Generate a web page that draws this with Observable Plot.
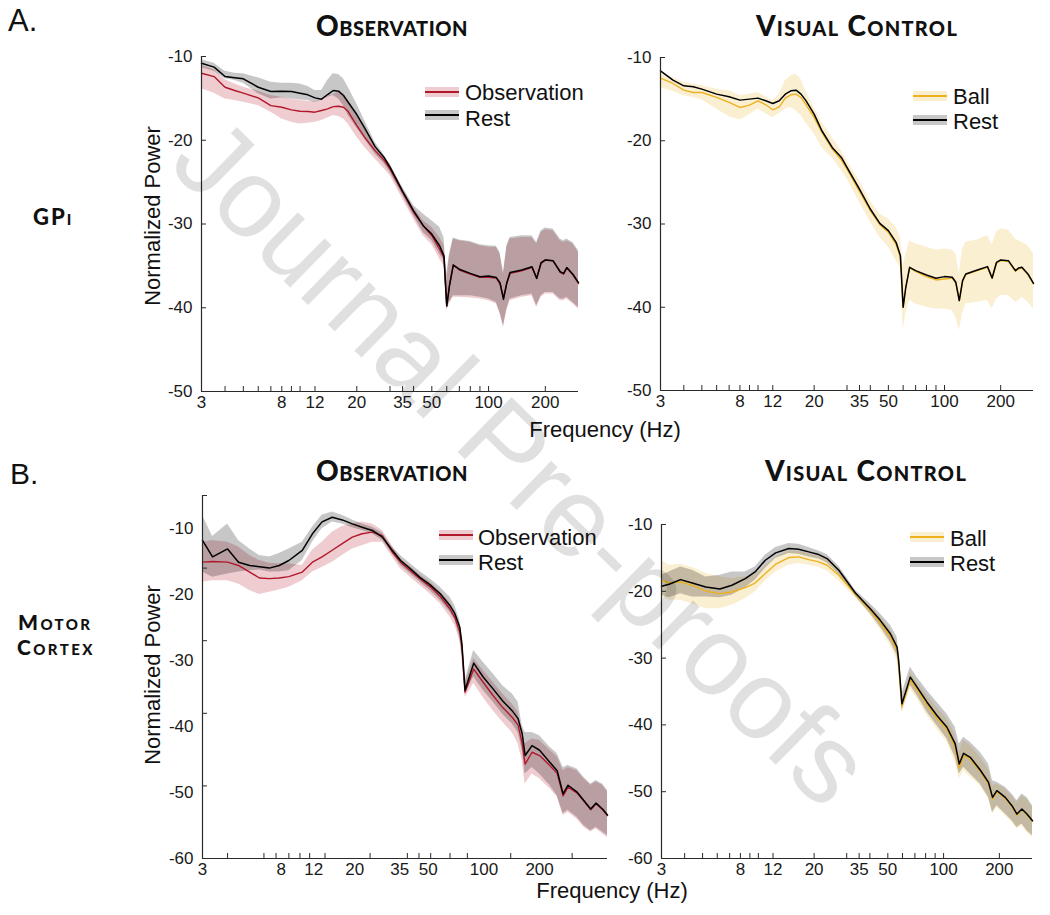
<!DOCTYPE html>
<html><head><meta charset="utf-8">
<script src="https://cdn.jsdelivr.net/npm/d3@7"></script>
<script src="https://cdn.jsdelivr.net/npm/@observablehq/plot@0.6"></script>
<style>
body{margin:0;background:#fff;}
#root{position:relative;width:1050px;height:915px;overflow:hidden;background:#fff;}
</style></head>
<body><div id="root"></div>
<script>
// ---------- tick labels / tick marks ----------
const xLabelTicks = [3, 8, 12, 20, 35, 50, 100, 200];
const xMinorTop = [4, 5, 6, 7, 8, 9, 10, 12, 20, 30, 35, 40, 50, 60, 70, 80, 90, 100, 200];
const xMinorBL = [4.1, 6.45, 7.5, 8.8, 10.1, 11.4, 13.8, 24.2, 38.5, 44.5, 51.5, 65.5, 81.3, 139.6, 300];
const yLabelsTop = [-10, -20, -30, -40, -50];
const yLabelsBottom = [-10, -20, -30, -40, -50, -60];
const yMarksBL = [-5, -16, -27, -38, -49, -60];

// ---------- A. GPi (top panels) ----------
const freqTop = [3,3.5,4,4.5,5,6,7,8,9,10,11,12,13,14,15,16,17,18,20,22,25,28,30,35,40,45,50,55,58,60,62,65,70,80,90,100,110,115,120,125,130,150,170,180,190,200,220,240,250,260,280,300];

const gpiObsMean = [-12.0,-12.4,-13.67,-14.06,-14.38,-14.94,-15.86,-16.06,-16.37,-16.53,-16.57,-16.65,-16.45,-16.25,-15.98,-15.94,-16.06,-16.57,-18.25,-19.64,-21.24,-22.43,-23.43,-26.2,-28.6,-30.2,-31.4,-33.0,-34.0,-39.76,-37.4,-34.86,-35.5,-35.98,-36.37,-36.37,-36.45,-37.17,-38.76,-37.1,-35.9,-35.58,-35.18,-36.45,-34.7,-34.3,-34.38,-35.78,-35.98,-35.26,-36.06,-37.1];
const gpiObsHi = [-11.08,-11.59,-12.79,-13.27,-13.67,-14.14,-14.66,-14.86,-15.1,-15.26,-15.34,-15.38,-15.18,-14.78,-14.54,-14.26,-14.46,-15.26,-16.85,-18.53,-20.64,-22.03,-22.83,-25.8,-28.0,-29.6,-30.4,-31.6,-32.47,-36.77,-33.98,-31.8,-32.0,-32.2,-32.6,-32.79,-32.79,-33.6,-35.98,-32.79,-31.8,-31.6,-31.6,-32.39,-31.0,-30.7,-30.8,-32.0,-32.2,-32.0,-32.39,-33.39];
const gpiObsLo = [-13.86,-14.38,-15.06,-15.26,-15.46,-15.86,-16.65,-17.45,-17.85,-18.05,-17.97,-17.85,-17.65,-17.33,-17.05,-17.17,-17.45,-18.05,-19.64,-20.84,-22.23,-23.43,-24.22,-27.01,-29.4,-31.4,-32.47,-34.18,-34.98,-40.36,-39.56,-38.76,-38.76,-38.84,-38.96,-39.16,-39.56,-40.76,-42.35,-40.36,-39.16,-38.76,-38.57,-39.96,-38.76,-38.37,-38.37,-39.16,-39.16,-38.96,-39.56,-40.16];
const gpiRestMean = [-10.8,-11.27,-12.39,-12.55,-12.67,-13.67,-14.18,-14.14,-14.18,-14.38,-14.58,-14.94,-15.1,-14.54,-14.06,-14.14,-14.66,-15.46,-16.93,-18.53,-20.76,-22.1,-23.2,-26.1,-28.4,-30.2,-31.2,-32.6,-33.8,-39.8,-37.4,-34.9,-35.4,-35.9,-36.3,-36.2,-36.4,-37.0,-39.0,-37.0,-35.8,-35.5,-35.1,-36.5,-34.6,-34.3,-34.4,-35.7,-35.9,-35.2,-36.0,-37.0];
const gpiRestHi = [-10.4,-10.8,-11.75,-12.0,-12.07,-12.55,-13.07,-13.19,-13.19,-13.27,-13.59,-14.06,-14.06,-12.87,-12.07,-12.15,-12.67,-13.67,-15.66,-17.65,-20.24,-21.83,-22.9,-25.6,-27.8,-28.8,-29.6,-30.4,-31.6,-35.98,-33.6,-31.67,-31.9,-32.1,-32.47,-32.6,-32.67,-33.4,-35.8,-32.6,-31.6,-31.4,-31.4,-32.2,-30.8,-30.48,-30.6,-31.8,-32.0,-31.8,-32.2,-33.2];
const gpiRestLo = [-11.35,-11.75,-12.67,-12.87,-13.19,-14.46,-15.06,-14.94,-15.06,-15.18,-15.26,-15.46,-15.26,-14.86,-14.66,-15.06,-15.86,-17.05,-18.53,-19.84,-21.63,-22.83,-23.82,-26.6,-29.0,-31.0,-32.0,-33.6,-34.4,-39.96,-39.36,-38.57,-38.57,-38.57,-38.76,-38.96,-39.36,-40.56,-42.15,-40.16,-38.96,-38.57,-38.37,-39.76,-38.57,-38.17,-38.17,-38.96,-38.96,-38.76,-39.36,-39.96];

const gpiBallMean = [-12.48,-13.12,-13.92,-14.2,-14.2,-14.8,-15.4,-16.0,-15.72,-15.2,-15.68,-16.28,-15.92,-14.88,-14.48,-14.4,-14.8,-15.6,-17.2,-19.0,-21.0,-22.32,-23.4,-26.08,-28.4,-30.08,-31.0,-32.48,-34.0,-40.0,-37.6,-35.28,-35.68,-36.32,-36.72,-36.6,-36.48,-37.12,-39.2,-36.88,-36.08,-35.6,-35.2,-36.56,-34.72,-34.4,-34.48,-35.68,-35.4,-35.28,-36.08,-37.2];
const gpiBallHi = [-11.8,-12.4,-13.0,-13.2,-13.4,-13.8,-14.0,-14.6,-14.4,-14.2,-14.72,-15.2,-14.4,-12.8,-12.2,-12.0,-12.6,-14.0,-16.0,-17.8,-19.6,-21.2,-22.4,-24.8,-27.2,-28.8,-29.4,-30.4,-31.6,-35.2,-33.6,-32.0,-32.4,-32.8,-33.12,-33.0,-33.12,-33.6,-36.0,-33.0,-32.2,-31.92,-31.4,-32.48,-31.0,-30.6,-30.72,-31.8,-32.0,-32.2,-32.6,-33.6];
const gpiBallLo = [-13.6,-14.08,-14.6,-14.8,-15.12,-16.2,-17.12,-17.52,-16.88,-16.2,-16.72,-17.28,-16.72,-16.2,-16.0,-16.4,-17.0,-17.8,-19.2,-20.8,-22.08,-23.6,-24.6,-27.4,-29.8,-31.6,-32.8,-34.4,-35.2,-42.8,-40.8,-39.2,-39.6,-40.0,-40.2,-40.2,-40.4,-41.2,-42.8,-40.8,-39.6,-39.4,-39.2,-40.2,-39.0,-38.6,-38.6,-39.4,-39.2,-38.8,-39.4,-40.2];
const gpiRest2Mean = [-11.6,-12.72,-13.4,-13.52,-13.8,-14.4,-14.72,-15.12,-15.0,-14.88,-15.2,-15.52,-15.2,-14.4,-14.0,-13.92,-14.4,-15.12,-16.8,-18.8,-20.8,-22.0,-23.2,-25.8,-28.2,-29.92,-30.8,-32.2,-33.8,-40.0,-37.6,-35.2,-35.6,-36.12,-36.52,-36.32,-36.4,-37.0,-39.2,-36.8,-36.0,-35.52,-35.12,-36.48,-34.6,-34.32,-34.4,-35.6,-35.28,-35.2,-36.0,-37.12];

// ---------- B. Motor cortex (bottom panels) ----------
const freqBL = [3,3.4,4.1,4.7,5.4,6.1,6.9,7.8,8.8,10.4,11.8,13.3,15.1,17.1,19.4,21.9,24.9,28.2,31.9,35.4,40,45,51,58,65.5,69.6,74,76,79,88,99,112,126,142,153,161,167,182,200,227,249,268,285,318,347,378,404,438,466];
const mcObsMean = [-15.1,-15.0,-15.1,-15.6,-16.6,-17.5,-17.6,-17.5,-17.3,-16.6,-15.1,-14.3,-13.3,-12.3,-11.3,-10.8,-10.55,-11.1,-13.6,-15.1,-16.4,-17.6,-18.8,-20.3,-22.2,-23.5,-25.7,-28.0,-34.8,-31.3,-33.3,-35.3,-37.1,-38.6,-39.8,-42.6,-45.7,-43.9,-44.4,-45.9,-47.1,-50.5,-49.2,-50.05,-51.3,-52.6,-51.7,-52.6,-53.5];
const mcObsHi = [-12.1,-11.8,-12.1,-12.8,-14.1,-14.85,-15.25,-15.35,-15.35,-15.6,-13.3,-12.1,-10.55,-9.7,-9.3,-9.0,-9.3,-10.3,-12.6,-14.6,-15.8,-17.0,-18.1,-19.6,-21.2,-22.5,-24.4,-27.0,-33.5,-29.7,-31.5,-33.3,-35.05,-36.6,-37.8,-40.6,-42.6,-41.9,-42.1,-43.6,-44.6,-46.7,-46.2,-46.7,-47.9,-48.9,-48.4,-48.9,-49.9];
const mcObsLo = [-18.1,-17.9,-17.9,-18.4,-19.4,-20.0,-19.65,-19.3,-18.9,-17.9,-16.6,-15.9,-15.1,-14.1,-13.1,-12.6,-12.1,-12.1,-14.3,-16.1,-17.4,-18.6,-19.9,-21.4,-23.4,-24.7,-27.0,-29.5,-35.6,-33.5,-35.6,-37.6,-39.3,-40.9,-42.6,-45.2,-48.7,-47.2,-47.9,-49.4,-50.7,-53.5,-53.0,-54.0,-55.25,-56.0,-55.5,-56.3,-56.8];
const mcRestMean = [-11.8,-14.3,-13.1,-15.1,-15.6,-15.8,-16.0,-15.6,-14.85,-13.3,-10.8,-9.0,-8.3,-8.7,-9.3,-9.8,-10.3,-11.3,-13.3,-14.85,-16.1,-17.4,-18.5,-19.9,-21.7,-22.9,-24.95,-27.5,-34.5,-30.4,-32.5,-34.3,-36.1,-37.6,-38.8,-41.1,-44.4,-42.9,-43.6,-45.4,-46.7,-50.2,-48.9,-49.9,-51.2,-52.5,-51.6,-52.5,-53.4];
const mcRestHi = [-8.0,-11.2,-9.3,-11.8,-13.1,-14.1,-14.3,-13.8,-13.1,-12.1,-9.8,-8.0,-7.5,-8.0,-8.7,-9.3,-9.8,-10.7,-12.8,-14.1,-15.35,-16.5,-17.6,-18.9,-20.4,-21.7,-23.9,-26.5,-33.0,-28.5,-30.25,-32.0,-33.8,-35.05,-36.3,-39.8,-40.9,-40.9,-41.4,-43.1,-44.1,-46.2,-45.9,-46.4,-47.7,-48.7,-48.2,-48.7,-49.7];
const mcRestLo = [-16.6,-17.4,-16.9,-16.6,-16.4,-16.3,-16.6,-16.6,-16.4,-14.85,-12.1,-10.05,-9.0,-9.3,-9.9,-10.3,-10.8,-11.8,-13.8,-15.6,-16.9,-18.1,-19.4,-20.9,-22.7,-23.9,-26.5,-29.0,-35.05,-32.5,-34.5,-36.3,-38.1,-39.6,-40.9,-43.6,-47.2,-46.2,-47.2,-48.9,-50.5,-53.2,-52.7,-53.7,-55.0,-55.8,-55.25,-56.0,-56.5];

const freqBR = [3,3.3,3.8,4.4,5.2,6.2,7.2,8.5,9.6,10.9,12.4,14.6,16.5,18.7,21.2,23.5,27.2,33.4,40.2,45.5,51.6,56.1,57.2,59.6,66.1,71.9,81.4,92.1,104.3,115.5,121.5,128.2,139.3,157.7,174.8,183.8,194,215.3,233.9,248.9,264.8,281.8,302];
const mcBallMean = [-18.35,-18.76,-18.6,-19.1,-19.95,-20.35,-20.1,-19.45,-18.76,-17.35,-15.95,-14.95,-14.85,-15.25,-15.6,-16.1,-17.6,-20.45,-22.85,-24.75,-26.85,-28.85,-30.85,-37.25,-33.25,-34.75,-37.0,-39.0,-40.75,-43.35,-46.45,-44.6,-45.1,-46.95,-48.85,-51.1,-50.0,-51.0,-52.25,-53.5,-52.7,-53.45,-54.45];
const mcBallHi = [-15.35,-16.1,-15.95,-16.45,-17.35,-17.86,-18.1,-17.86,-17.6,-16.25,-14.86,-13.96,-13.96,-14.35,-14.75,-15.25,-16.85,-20.1,-22.25,-23.85,-25.75,-27.6,-29.6,-36.35,-32.1,-33.6,-35.6,-37.35,-39.1,-41.35,-44.1,-42.35,-43.1,-44.85,-46.6,-49.1,-48.85,-49.6,-50.6,-51.6,-50.6,-51.1,-52.35];
const mcBallLo = [-20.86,-21.35,-21.35,-21.85,-22.6,-22.6,-22.1,-21.1,-20.1,-18.46,-17.1,-16.1,-15.85,-16.1,-16.45,-16.96,-18.46,-20.95,-23.6,-25.75,-28.1,-30.35,-32.35,-38.35,-34.6,-36.1,-38.6,-40.6,-42.6,-45.6,-48.1,-46.85,-47.85,-49.1,-51.1,-53.35,-52.35,-53.6,-54.6,-55.6,-55.1,-56.1,-56.85];
const mcRest2Mean = [-19.25,-18.95,-18.25,-18.76,-19.35,-19.65,-19.1,-18.1,-17.1,-15.35,-14.25,-13.6,-13.7,-14.1,-14.5,-15.1,-16.85,-20.25,-22.6,-24.35,-26.35,-28.35,-30.35,-36.85,-32.85,-34.35,-36.6,-38.6,-40.35,-42.85,-45.85,-44.25,-44.85,-46.75,-48.6,-50.85,-49.85,-50.85,-52.1,-53.35,-52.6,-53.35,-54.35];
const mcRest2Hi = [-17.6,-17.1,-16.36,-16.85,-17.86,-17.6,-17.1,-17.1,-16.36,-14.6,-13.45,-12.85,-12.95,-13.45,-13.96,-14.5,-16.25,-19.85,-21.85,-23.35,-25.1,-26.85,-28.85,-35.35,-31.35,-32.85,-34.85,-36.6,-38.35,-40.35,-42.85,-41.85,-42.6,-44.1,-45.85,-48.35,-48.6,-49.35,-50.35,-51.35,-50.35,-50.85,-52.1];
const mcRest2Lo = [-20.6,-20.95,-20.35,-20.86,-20.86,-20.95,-20.6,-19.45,-18.35,-16.6,-15.1,-14.35,-14.45,-14.86,-15.16,-15.76,-17.45,-20.75,-23.35,-25.35,-27.6,-29.6,-31.6,-37.85,-34.1,-35.6,-38.1,-40.1,-42.1,-44.85,-47.35,-46.35,-47.35,-48.85,-50.85,-53.1,-52.1,-53.35,-54.35,-55.35,-54.85,-55.85,-56.6];

// ---------- styles ----------
const RED = "#b2182b", BLACK = "#000000", GOLD = "#EDB120", AXIS = "#2a2a2a", TXT = "#1a1a1a";
const FONT = "'Liberation Sans', Arial, Helvetica, sans-serif";

function rows(freq, mean, lo, hi) {
  return freq.map((f, i) => ({f, mean: mean[i], lo: lo ? lo[i] : null, hi: hi ? hi[i] : null}));
}

const root = document.getElementById("root");
const ML = 60, MR = 10, MT = 10, MB = 40;

function makePanel(cfg) {
  const fw = cfg.frame.right - cfg.frame.left, fh = cfg.frame.bottom - cfg.frame.top;
  const marks = [];
  for (const b of cfg.bands) marks.push(Plot.areaY(b.data, {x: "f", y1: "lo", y2: "hi", fill: b.color, fillOpacity: b.opacity, curve: "linear"}));
  for (const l of cfg.lines) marks.push(Plot.lineY(l.data, {x: "f", y: "mean", stroke: l.color, strokeWidth: l.width, curve: "linear"}));
  marks.push(Plot.ruleX([cfg.xDomain[0]], {stroke: AXIS, strokeWidth: 1.2}));
  marks.push(Plot.ruleY([cfg.yDomain[0]], {stroke: AXIS, strokeWidth: 1.2}));
  marks.push(Plot.tickX(cfg.xTickMarks, {x: d => d, insetTop: fh - 5, stroke: AXIS}));
  marks.push(Plot.tickY(cfg.yTickMarks, {y: d => d, insetRight: fw - 5, stroke: AXIS}));
  marks.push(Plot.text(xLabelTicks, {x: d => d, frameAnchor: "bottom", lineAnchor: "top", dy: 4, text: d => String(d), fill: TXT}));
  marks.push(Plot.axisY(cfg.yLabels, {tickSize: 0, tickPadding: 9, tickFormat: d => String(d), label: null, fill: TXT}));
  const svg = Plot.plot({
    width: fw + ML + MR, height: fh + MT + MB,
    marginLeft: ML, marginRight: MR, marginTop: MT, marginBottom: MB,
    x: {type: "log", domain: cfg.xDomain, axis: null},
    y: {domain: cfg.yDomain},
    style: {background: "transparent", overflow: "visible", font: "17px " + FONT, color: TXT},
    marks
  });
  svg.style.position = "absolute";
  svg.style.left = (cfg.frame.left - ML) + "px";
  svg.style.top = (cfg.frame.top - MT) + "px";
  root.appendChild(svg);
}

// A. GPi - Observation
makePanel({
  frame: {left: 201, right: 578, top: 56, bottom: 391},
  xDomain: [3, 300], yDomain: [-50, -10],
  xTickMarks: xMinorTop, yTickMarks: yLabelsTop, yLabels: yLabelsTop,
  bands: [
    {data: rows(freqTop, gpiObsMean, gpiObsLo, gpiObsHi), color: RED, opacity: 0.22},
    {data: rows(freqTop, gpiRestMean, gpiRestLo, gpiRestHi), color: BLACK, opacity: 0.22}
  ],
  lines: [
    {data: rows(freqTop, gpiObsMean), color: RED, width: 1.4},
    {data: rows(freqTop, gpiRestMean), color: BLACK, width: 1.5}
  ]
});
// A. GPi - Visual control
makePanel({
  frame: {left: 660, right: 1033, top: 57, bottom: 390},
  xDomain: [3, 300], yDomain: [-50, -10],
  xTickMarks: xMinorTop, yTickMarks: yLabelsTop, yLabels: yLabelsTop,
  bands: [
    {data: rows(freqTop, gpiBallMean, gpiBallLo, gpiBallHi), color: GOLD, opacity: 0.2}
  ],
  lines: [
    {data: rows(freqTop, gpiBallMean), color: GOLD, width: 1.4},
    {data: rows(freqTop, gpiRest2Mean), color: BLACK, width: 1.5}
  ]
});
// B. Motor cortex - Observation
makePanel({
  frame: {left: 202, right: 607, top: 495, bottom: 858},
  xDomain: [3, 466], yDomain: [-60, -5],
  xTickMarks: xMinorBL, yTickMarks: yMarksBL, yLabels: yLabelsBottom,
  bands: [
    {data: rows(freqBL, mcObsMean, mcObsLo, mcObsHi), color: RED, opacity: 0.22},
    {data: rows(freqBL, mcRestMean, mcRestLo, mcRestHi), color: BLACK, opacity: 0.22}
  ],
  lines: [
    {data: rows(freqBL, mcObsMean), color: RED, width: 1.4},
    {data: rows(freqBL, mcRestMean), color: BLACK, width: 1.5}
  ]
});
// B. Motor cortex - Visual control
makePanel({
  frame: {left: 661, right: 1032, top: 524, bottom: 858},
  xDomain: [3, 302], yDomain: [-60, -10],
  xTickMarks: xMinorTop, yTickMarks: yLabelsBottom, yLabels: yLabelsBottom,
  bands: [
    {data: rows(freqBR, mcBallMean, mcBallLo, mcBallHi), color: GOLD, opacity: 0.2},
    {data: rows(freqBR, mcRest2Mean, mcRest2Lo, mcRest2Hi), color: BLACK, opacity: 0.22}
  ],
  lines: [
    {data: rows(freqBR, mcBallMean), color: GOLD, width: 1.4},
    {data: rows(freqBR, mcRest2Mean), color: BLACK, width: 1.5}
  ]
});

// ---------- text overlay ----------
const NS = "http://www.w3.org/2000/svg";
const ov = document.createElementNS(NS, "svg");
ov.setAttribute("width", 1050); ov.setAttribute("height", 915);
ov.style.cssText = "position:absolute;left:0;top:0;overflow:visible;pointer-events:none";
root.appendChild(ov);
function txt(s, x, y, opt = {}) {
  const t = document.createElementNS(NS, "text");
  t.textContent = s;
  t.setAttribute("x", x); t.setAttribute("y", y);
  t.setAttribute("font-family", opt.family || FONT);
  t.setAttribute("font-size", opt.size || 22);
  t.setAttribute("fill", opt.fill || "#111");
  if (opt.weight) t.setAttribute("font-weight", opt.weight);
  if (opt.anchor) t.setAttribute("text-anchor", opt.anchor);
  if (opt.sc) t.style.fontVariant = "small-caps";
  if (opt.ls) t.setAttribute("letter-spacing", opt.ls);
  if (opt.transform) t.setAttribute("transform", opt.transform);
  ov.appendChild(t);
  return t;
}
function rect(x, y, w, h, fill, op) {
  const r = document.createElementNS(NS, "rect");
  r.setAttribute("x", x); r.setAttribute("y", y); r.setAttribute("width", w); r.setAttribute("height", h);
  r.setAttribute("fill", fill); r.setAttribute("fill-opacity", op);
  ov.appendChild(r);
}
function swatch(x, cy, color, op, line) {
  rect(x, cy - 5, 34, 10, color, op);
  rect(x, cy - 1, 34, 2, line, 1);
}
const TFONT = "Lato, 'Open Sans', sans-serif";
txt("A.", 8, 31, {size: 31});
txt("B.", 10, 484, {size: 30});
txt("Observation", 392, 36, {family: TFONT, size: 28, weight: 900, sc: true, anchor: "middle", ls: "0.5"});
txt("Visual Control", 857, 36, {family: TFONT, size: 28, weight: 900, sc: true, anchor: "middle", ls: "1.3"});
txt("Observation", 392, 481, {family: TFONT, size: 28, weight: 900, sc: true, anchor: "middle", ls: "0.5"});
txt("Visual Control", 866, 481, {family: TFONT, size: 28, weight: 900, sc: true, anchor: "middle", ls: "1.3"});
txt("GPi", 33, 225, {family: TFONT, size: 22, weight: 900, sc: true, ls: "2"});
txt("Motor", 18, 630, {family: TFONT, size: 21, weight: 900, sc: true, ls: "2.4"});
txt("Cortex", 17, 655, {family: TFONT, size: 21, weight: 900, sc: true, ls: "2.4"});
txt("Normalized Power", 0, 0, {size: 22, anchor: "middle", transform: "translate(160,216) rotate(-90)"});
txt("Normalized Power", 0, 0, {size: 22, anchor: "middle", transform: "translate(160,675) rotate(-90)"});
txt("Frequency (Hz)", 605, 437, {size: 22, anchor: "middle"});
txt("Frequency (Hz)", 612, 898, {size: 22, anchor: "middle"});
// legends
swatch(425, 92, RED, 0.22, RED); txt("Observation", 465, 100);
swatch(425, 115, BLACK, 0.22, BLACK); txt("Rest", 465, 126);
swatch(913, 96, GOLD, 0.2, GOLD); txt("Ball", 953, 104);
swatch(913, 120, BLACK, 0.22, BLACK); txt("Rest", 953, 129);
swatch(439, 535, RED, 0.22, RED); txt("Observation", 478, 545);
swatch(439, 560, BLACK, 0.22, BLACK); txt("Rest", 478, 570);
swatch(910, 537, GOLD, 0.2, GOLD); txt("Ball", 950, 546);
swatch(910, 562, BLACK, 0.22, BLACK); txt("Rest", 950, 571);
// watermark
txt("Journal Pre-proofs", 0, 38, {size: 112, anchor: "middle", fill: "rgba(0,0,0,0.12)", transform: "translate(522,462) rotate(44.5)"});
</script>
</body></html>
